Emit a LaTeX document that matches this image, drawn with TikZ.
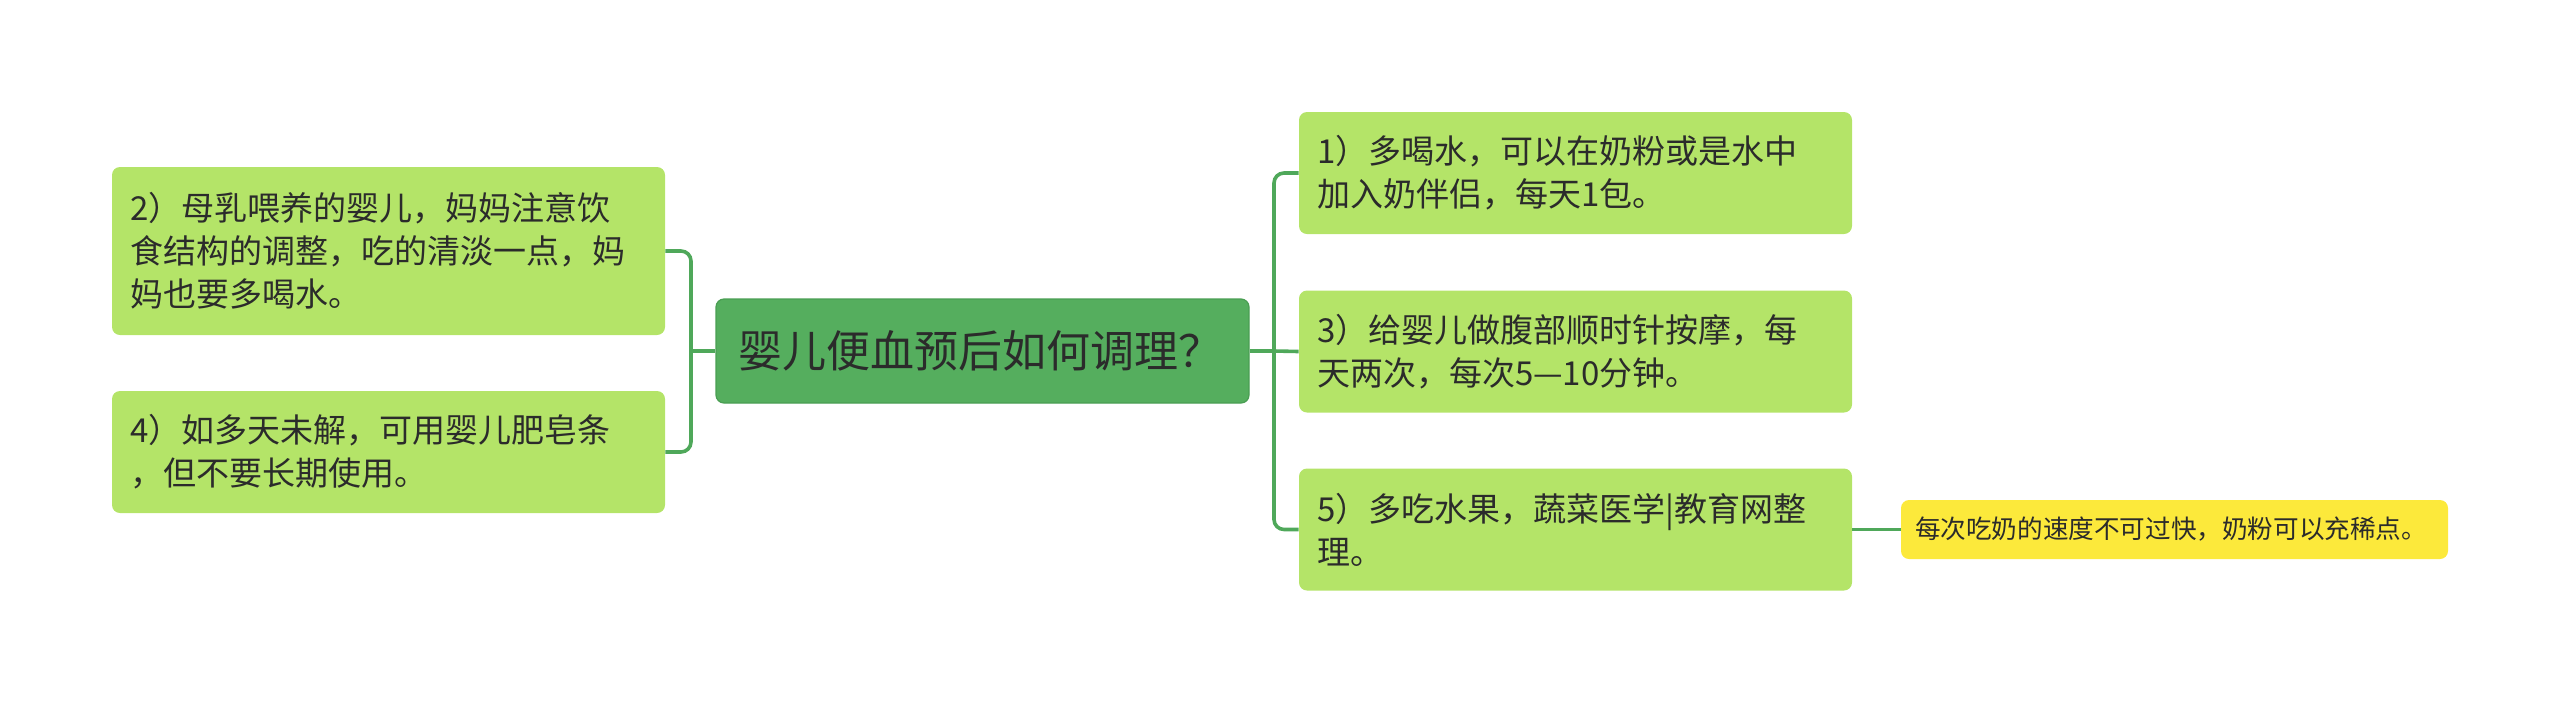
\documentclass[tikz,border=0pt]{standalone}
\usepackage{fontspec}
\setmainfont{Noto Sans CJK SC}
\definecolor{rootfill}{HTML}{55AE5E}
\definecolor{rootdraw}{HTML}{4A9E53}
\definecolor{leaffill}{HTML}{B4E468}
\definecolor{notefill}{HTML}{FCE93B}
\definecolor{linecol}{HTML}{4FA85A}
\definecolor{txt}{HTML}{2B2B2B}
\begin{document}
\begin{tikzpicture}[x=0.5pt,y=-0.5pt,
  rootbox/.style={fill=rootfill, draw=rootdraw, line width=0.6pt, rounded corners=4pt,
    minimum width=266.5pt, minimum height=52pt, inner sep=0pt, text width=244.5pt, align=left,
    font=\fontsize{22}{26}\selectfont, text=txt},
  leafbox/.style={fill=leaffill, rounded corners=4pt, minimum width=276.5pt, inner sep=0pt,
    text width=258.5pt, align=left, font=\fontsize{16.5}{21.5}\selectfont, text=txt},
  notebox/.style={fill=notefill, rounded corners=4pt, minimum width=273.5pt, minimum height=29.5pt,
    inner sep=0pt, text width=259.5pt, align=left, font=\fontsize{12.8}{15}\selectfont, text=txt},
  conn/.style={draw=linecol, line width=1.8pt, rounded corners=5pt}]
\useasboundingbox (0,0) rectangle (2560,703);
\node[rootbox] (root) at (982.5,351) {婴儿便血预后如何调理？};
\node[leafbox, minimum height=84pt] (l2) at (388.5,251) {2）母乳喂养的婴儿，妈妈注意饮\\食结构的调整，吃的清淡一点，妈\\妈也要多喝水。};
\node[leafbox, minimum height=61pt] (l4) at (388.5,452) {4）如多天未解，可用婴儿肥皂条\\，但不要长期使用。};
\node[leafbox, minimum height=61pt] (r1) at (1575.5,173) {1）多喝水，可以在奶粉或是水中\\加入奶伴侣，每天1包。};
\node[leafbox, minimum height=61pt] (r3) at (1575.5,351.5) {3）给婴儿做腹部顺时针按摩，每\\天两次，每次5—10分钟。};
\node[leafbox, minimum height=61pt] (r5) at (1575.5,529.5) {5）多吃水果，蔬菜医学|教育网整\\理。};
\node[notebox] (note) at (2174.5,529.5) {每次吃奶的速度不可过快，奶粉可以充稀点。};
\coordinate (lj) at (691,351);
\coordinate (rj) at (1274,351);
\draw[conn] (root.west) -- (lj);
\draw[conn] (lj) |- (l2.east);
\draw[conn] (lj) |- (l4.east);
\draw[conn] (root.east) -- (rj);
\draw[conn] (rj) |- (r1.west);
\draw[conn] (rj) -- (r3.west);
\draw[conn] (rj) |- (r5.west);
\draw[conn] (r5.east) -- (note.west);
\end{tikzpicture}
\end{document}
